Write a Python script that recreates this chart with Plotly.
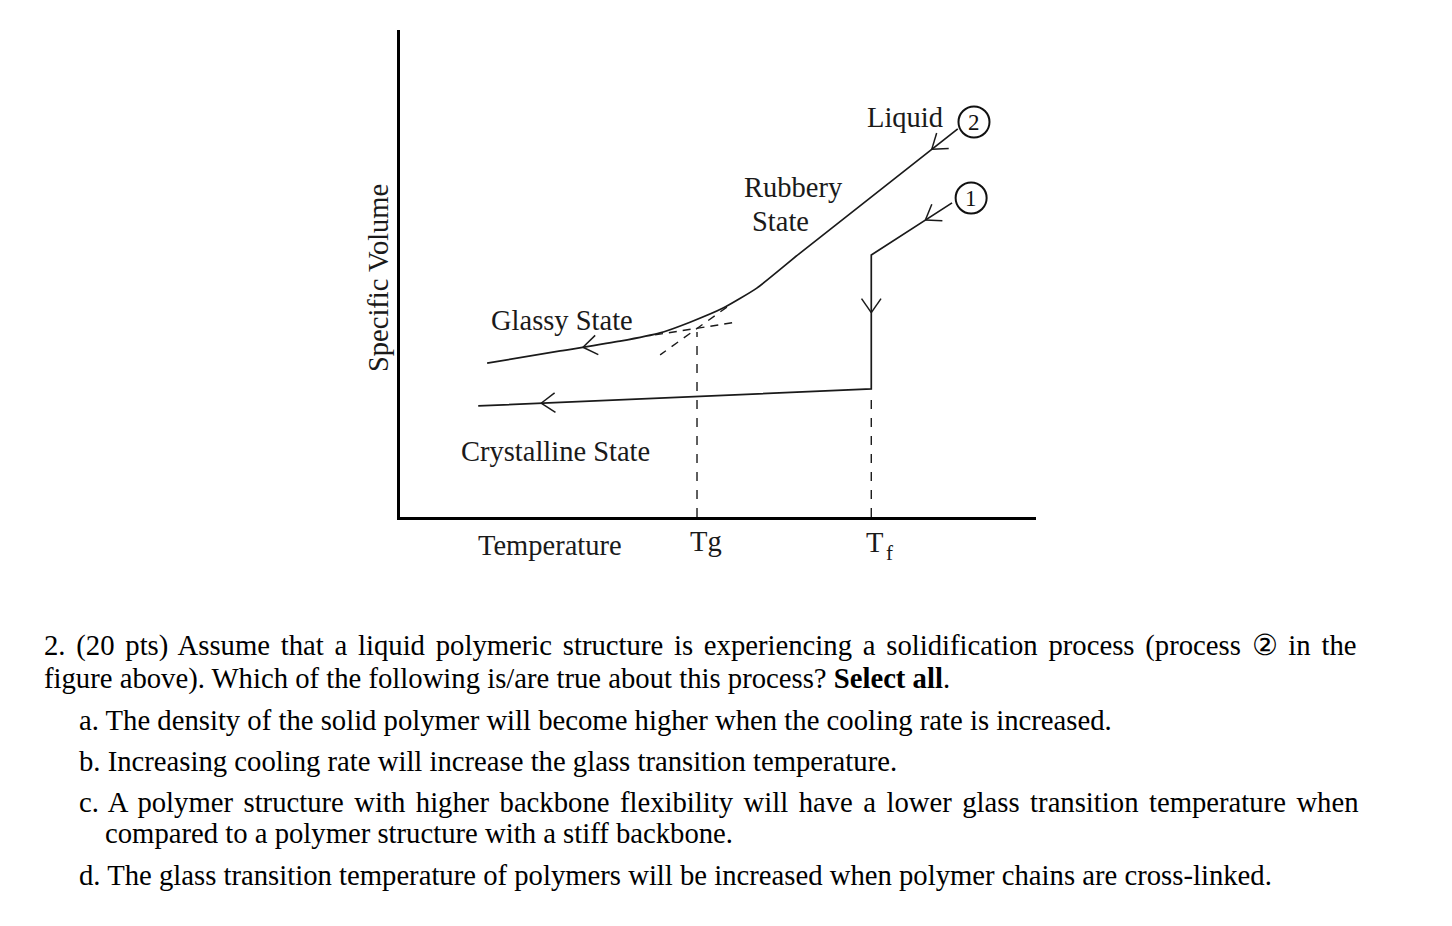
import math
import plotly.graph_objects as go

W, H = 1452, 926
# plot area in page pixels
X0, X1, Y0, Y1 = 400, 1036, 30, 517

# ---- data (temperature / specific-volume units, 0..100 on each axis) ----
curve2_T = [13.7, 25.2, 34.6, 40.9, 45.6, 50.8, 56.1, 62.9, 87.7]      # process 2: liquid -> rubbery -> glassy
curve2_V = [31.6, 34.1, 36.1, 37.8, 40.0, 42.9, 47.0, 54.2, 79.7]
curve1_T = [86.8, 74.1, 74.1, 12.3]                                    # process 1: liquid -> crystalline
curve1_V = [64.5, 53.8, 26.3, 22.8]
glass_ext_T = [40.1, 52.8]
glass_ext_V = [37.4, 40.0]
rubber_ext_T = [51.4, 40.9]
rubber_ext_V = [43.1, 33.3]
Tg = 46.7
Tf = 74.1
Tg_top_V = 38.0
Tf_top_V = 25.5
circle_T = [90.25, 89.8]
circle_V = [81.1, 65.5]
circle_lbl = ["2", "1"]

chart_labels = ["Liquid", "Rubbery", "State", "Glassy State", "Crystalline State"]
chart_label_T = [79.4, 61.9, 59.9, 25.5, 24.5]
chart_label_V = [82.0, 67.6, 60.6, 40.3, 13.4]

axis_labels = ["Temperature", "Tg", "T", "f"]
axis_label_px = [550, 706, 874, 889]
axis_label_py = [545, 541, 542, 553]
axis_label_size = [28.5, 28.5, 28.5, 21]

question = [
    "2. (20 pts) Assume that a liquid polymeric structure is experiencing a solidification process (process \u2461 in the",
    "figure above). Which of the following is/are true about this process? <b>Select all</b>.",
    "a. The density of the solid polymer will become higher when the cooling rate is increased.",
    "b. Increasing cooling rate will increase the glass transition temperature.",
    "c. A polymer structure with higher backbone flexibility will have a lower glass transition temperature when",
    "compared to a polymer structure with a stiff backbone.",
    "d. The glass transition temperature of polymers will be increased when polymer chains are cross-linked.",
]
question_x = [42, 42, 77, 77, 77, 103, 77]
question_y = [645, 678, 720, 761, 802, 833, 875]
question_wordspace = [3.6, 0, 0, 0, 3.3, 0, 0]   # justified lines
QSIZE = 28.7

PXT = (X1 - X0) / 100.0
PXV = (Y1 - Y0) / 100.0


def chevron(Ta, Va, Tb, Vb, frac, L=17, ang=35):
    ax, ay = Ta * PXT, Va * PXV
    bx, by = Tb * PXT, Vb * PXV
    tx, ty = ax + (bx - ax) * frac, ay + (by - ay) * frac
    dx, dy = bx - ax, by - ay
    n = math.hypot(dx, dy)
    dx, dy = dx / n, dy / n
    xs, ys = [], []
    for s in (1, -1):
        a = math.radians(ang) * s
        rx = dx * math.cos(a) - dy * math.sin(a)
        ry = dx * math.sin(a) + dy * math.cos(a)
        xs += [(tx - L * rx) / PXT, tx / PXT, None]
        ys += [(ty - L * ry) / PXV, ty / PXV, None]
    return xs[:-1], ys[:-1]


fig = go.Figure()
ink = "#1a1a1a"
line = dict(color=ink, width=1.7)

fig.add_trace(go.Scatter(x=curve2_T, y=curve2_V, mode="lines", line=dict(shape="spline", smoothing=0.5, **line)))
fig.add_trace(go.Scatter(x=curve1_T, y=curve1_V, mode="lines", line=line))
fig.add_trace(go.Scatter(x=glass_ext_T, y=glass_ext_V, mode="lines", line=dict(color=ink, width=1.4, dash="8px,6px")))
fig.add_trace(go.Scatter(x=rubber_ext_T, y=rubber_ext_V, mode="lines", line=dict(color=ink, width=1.4, dash="8px,7px")))
fig.add_trace(go.Scatter(x=[Tg, Tg], y=[0, Tg_top_V], mode="lines", line=dict(color=ink, width=1.4, dash="9px,9px")))
fig.add_trace(go.Scatter(x=[Tf, Tf], y=[0, Tf_top_V], mode="lines", line=dict(color=ink, width=1.4, dash="9px,9px")))

arrows = [
    (curve2_T[8], curve2_V[8], curve2_T[7], curve2_V[7], 0.165),
    (curve2_T[2], curve2_V[2], curve2_T[1], curve2_V[1], 0.62),
    (curve1_T[0], curve1_V[0], curve1_T[1], curve1_V[1], 0.33),
    (curve1_T[1], curve1_V[1], curve1_T[2], curve1_V[2], 0.43),
    (curve1_T[2], curve1_V[2], curve1_T[3], curve1_V[3], 0.84),
]
for a in arrows:
    xs, ys = chevron(*a)
    fig.add_trace(go.Scatter(x=xs, y=ys, mode="lines", line=dict(color=ink, width=1.5)))

fig.add_trace(go.Scatter(
    x=circle_T, y=circle_V, mode="markers",
    marker=dict(symbol="circle-open", size=31, line=dict(width=2, color="#111"), color="#111"),
))

serif = "Liberation Serif"
for txt, tx, vy in zip(circle_lbl, circle_T, circle_V):
    fig.add_annotation(x=tx, y=vy, xref="x", yref="y", text=txt, showarrow=False,
                       font=dict(family=serif, size=23, color="#111"), xanchor="center", yanchor="middle")

for txt, tx, vy in zip(chart_labels, chart_label_T, chart_label_V):
    fig.add_annotation(x=tx, y=vy, xref="x", yref="y", text=txt, showarrow=False,
                       font=dict(family=serif, size=28.5, color=ink), xanchor="center", yanchor="middle")

for txt, px, py, sz in zip(axis_labels, axis_label_px, axis_label_py, axis_label_size):
    fig.add_annotation(x=px / W, y=1 - py / H, xref="paper", yref="paper", text=txt, showarrow=False,
                       font=dict(family=serif, size=sz, color=ink), xanchor="center", yanchor="middle")

fig.add_annotation(x=378 / W, y=1 - 278 / H, xref="paper", yref="paper", text="Specific Volume",
                   textangle=-90, showarrow=False, xanchor="center", yanchor="middle",
                   font=dict(family=serif, size=28.5, color=ink))

for txt, qx, qy, ws in zip(question, question_x, question_y, question_wordspace):
    if ws:
        txt = f'<span style="word-spacing:{ws}px">{txt}</span>'
    fig.add_annotation(x=qx / W, y=1 - qy / H, xref="paper", yref="paper", text=txt, showarrow=False,
                       xanchor="left", yanchor="middle", align="left",
                       font=dict(family=serif, size=QSIZE, color="#000"))

fig.update_layout(
    width=W, height=H, margin=dict(l=0, r=0, t=0, b=0),
    paper_bgcolor="white", plot_bgcolor="white", showlegend=False,
    xaxis=dict(domain=[X0 / W, X1 / W], range=[0, 100], showgrid=False, zeroline=False,
               showticklabels=False, ticks="", showline=True, linecolor="#000", linewidth=3),
    yaxis=dict(domain=[1 - Y1 / H, 1 - Y0 / H], range=[0, 100], showgrid=False, zeroline=False,
               showticklabels=False, ticks="", showline=True, linecolor="#000", linewidth=3),
)
fig.write_html("out.html")
